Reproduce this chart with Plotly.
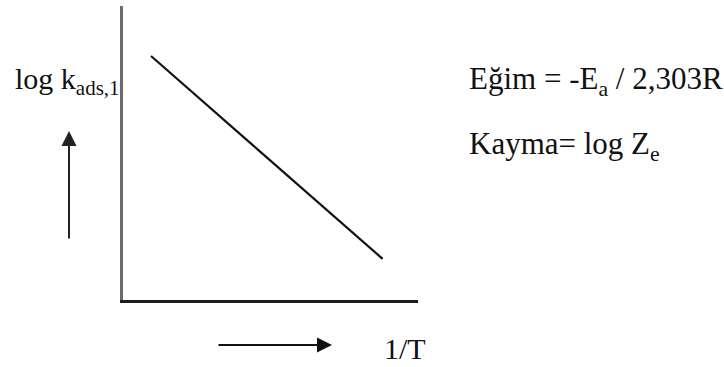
import plotly.graph_objects as go

# Schematic Arrhenius plot: log k_ads,1 falls linearly with 1/T
inv_T = [0.95, 8.8]
log_k = [8.3, 1.4]

x_range = [0, 10]
y_range = [0, 10]

y_label = "log k<sub>ads,1</sub>"
x_label = "1/T"
slope_text = "Eğim = -E<sub>a</sub> / 2,303R"
intercept_text = "Kayma= log Z<sub>e</sub>"

W, H = 724, 367
ML, MR, MT, MB = 123, 306, 6, 67
PW, PH = W - ML - MR, H - MT - MB

serif = "Liberation Serif"


def px(x):
    return (x - ML) / PW


def py(y):
    return (H - MB - y) / PH


fig = go.Figure()
fig.add_trace(go.Scatter(
    x=inv_T, y=log_k, mode="lines",
    line=dict(color="#111111", width=2.2),
    hoverinfo="skip", showlegend=False,
))

annotations = [
    # axis labels
    dict(text=y_label, x=px(13), y=py(81), xanchor="left", yanchor="middle",
         font=dict(size=30)),
    dict(text=x_label, x=px(382), y=py(348), xanchor="left", yanchor="middle",
         font=dict(size=30)),
    # slope / intercept notes
    dict(text=slope_text, x=px(467), y=py(81), xanchor="left", yanchor="middle",
         font=dict(size=31)),
    dict(text=intercept_text, x=px(467), y=py(146), xanchor="left", yanchor="middle",
         font=dict(size=31)),
    # direction arrows
    dict(text="", x=px(69), y=py(131), ax=0, ay=109, showarrow=True,
         arrowhead=2, arrowsize=1.5, arrowwidth=2, arrowcolor="#222222"),
    dict(text="", x=px(332), y=py(345), ax=-115, ay=0, showarrow=True,
         arrowhead=2, arrowsize=1.5, arrowwidth=2, arrowcolor="#111111"),
]
for a in annotations:
    a.update(xref="paper", yref="paper")
    a.setdefault("showarrow", False)

fig.update_layout(
    width=W, height=H,
    margin=dict(l=ML, r=MR, t=MT, b=MB),
    paper_bgcolor="white", plot_bgcolor="white",
    font=dict(family=serif, color="#111111"),
    annotations=annotations,
    xaxis=dict(range=x_range, showline=True, linecolor="#1e1e1e", linewidth=2.5,
               showgrid=False, zeroline=False, showticklabels=False, ticks=""),
    yaxis=dict(range=y_range, showline=True, linecolor="#6a6a6a", linewidth=2.5,
               showgrid=False, zeroline=False, showticklabels=False, ticks=""),
)

fig.write_html("out.html", config={"displayModeBar": False})
